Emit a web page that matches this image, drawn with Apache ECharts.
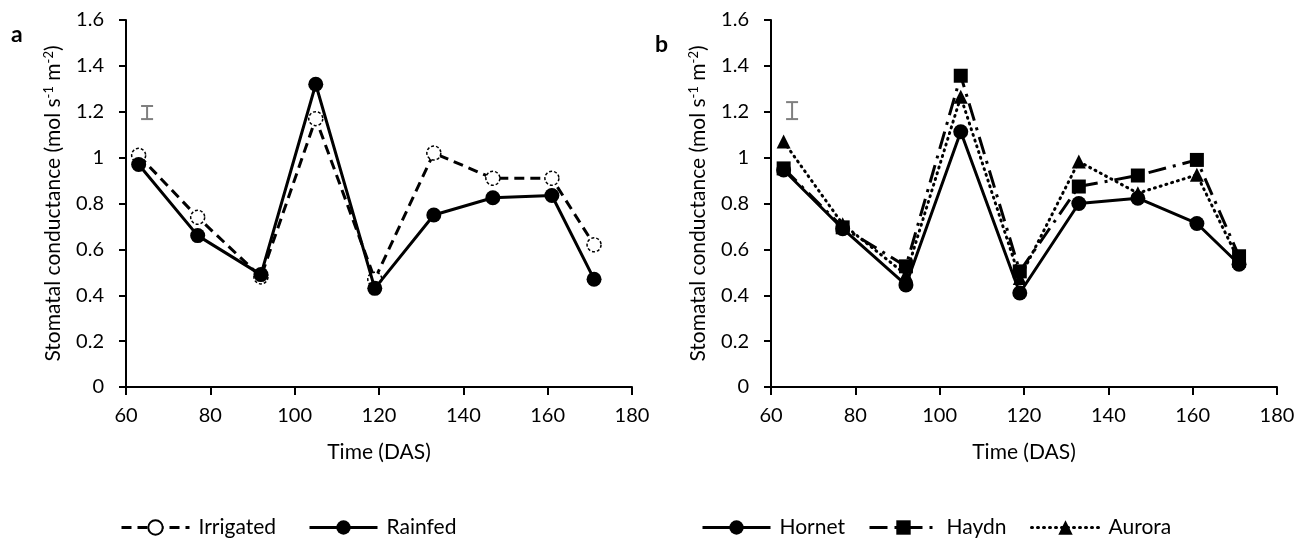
<!DOCTYPE html>
<html><head><meta charset="utf-8">
<script src="https://cdn.jsdelivr.net/npm/echarts@6/dist/echarts.min.js"></script>
<style>html,body{margin:0;padding:0;background:#fff}#c{width:1306px;height:541px}</style>
</head><body><div id="c"></div>
<script>
var days = [63, 77, 92, 105, 119, 133, 147, 161, 171];
var irrigated = [1.01, 0.74, 0.48, 1.17, 0.47, 1.02, 0.91, 0.91, 0.62];
var rainfed = [0.97, 0.66, 0.49, 1.32, 0.43, 0.75, 0.825, 0.835, 0.47];
var hornet = [0.946, 0.69, 0.445, 1.113, 0.41, 0.80, 0.823, 0.713, 0.535];
var haydn = [0.953, 0.696, 0.526, 1.357, 0.504, 0.874, 0.922, 0.99, 0.57];
var aurora = [1.07, 0.71, 0.49, 1.265, 0.475, 0.983, 0.845, 0.925, 0.55];
var errA = [65, 1.168, 1.225];
var errB = [65, 1.168, 1.242];
var xTicks = {min: 60, max: 180, step: 20};
var yTicks = {min: 0, max: 1.6, step: 0.2};

var FONT = "Lato, 'Open Sans', sans-serif";
function pairs(v){ return days.map(function(d,i){return [d, v[i]];}); }

function xAxis(idx){
  return {gridIndex: idx, type:'value', min:xTicks.min, max:xTicks.max, interval:xTicks.step,
    name:'Time (DAS)', nameLocation:'middle', nameGap:55,
    nameTextStyle:{fontFamily:FONT, fontSize:21, color:'#000'},
    axisLine:{lineStyle:{color:'#000', width:2}},
    axisTick:{show:true, length:8, lineStyle:{color:'#000', width:2}},
    axisLabel:{fontFamily:FONT, fontSize:20, color:'#000', margin:19},
    splitLine:{show:false}};
}
function yAxis(idx){
  return {gridIndex: idx, type:'value', min:yTicks.min, max:yTicks.max, interval:yTicks.step,
    name:'Stomatal conductance (mol s{sup|-1} m{sup|-2})', nameLocation:'middle', nameGap:62, nameRotate:90,
    nameTextStyle:{fontFamily:FONT, fontSize:21, color:'#000',
      rich:{sup:{fontFamily:FONT, fontSize:13, color:'#000', verticalAlign:'top', padding:[0,0,9,0]}}},
    axisLine:{show:true, lineStyle:{color:'#000', width:2}},
    axisTick:{show:true, length:7, lineStyle:{color:'#000', width:2}},
    axisLabel:{fontFamily:FONT, fontSize:20, color:'#000', margin:22,
      formatter:function(v){return String(Math.round(v*10)/10);}},
    splitLine:{show:false}};
}
function errSeries(idx, e){
  return {type:'custom', xAxisIndex:idx, yAxisIndex:idx, silent:true, z:1,
    data:[e],
    renderItem:function(params, api){
      var x = api.value(0), lo = api.value(1), hi = api.value(2);
      var p1 = api.coord([x, lo]), p2 = api.coord([x, hi]);
      var s = {stroke:'#7f7f7f', lineWidth:2};
      return {type:'group', children:[
        {type:'line', shape:{x1:p1[0], y1:p1[1], x2:p2[0], y2:p2[1]}, style:s},
        {type:'line', shape:{x1:p1[0]-6, y1:p1[1], x2:p1[0]+6, y2:p1[1]}, style:s},
        {type:'line', shape:{x1:p2[0]-6, y1:p2[1], x2:p2[0]+6, y2:p2[1]}, style:s}
      ]};
    }};
}
function leg(name, left){
  return {left:left, top:517, itemWidth:68, itemHeight:18, padding:0,
    lineStyle:{width:3},
    textStyle:{fontFamily:FONT, fontSize:21, color:'#000', padding:[0,0,0,4]},
    data:[name]};
}

var option = {
  animation:false,
  backgroundColor:'#fff',
  textStyle:{fontFamily:FONT},
  title:[
    {text:'a', left:11, top:23, padding:0, textStyle:{fontFamily:FONT, fontSize:23, fontWeight:'bold', color:'#000'}},
    {text:'b', left:655, top:33, padding:0, textStyle:{fontFamily:FONT, fontSize:23, fontWeight:'bold', color:'#000'}}
  ],
  grid:[
    {left:126, right:674, top:20, bottom:154},
    {left:771, right:29, top:20, bottom:154}
  ],
  xAxis:[xAxis(0), xAxis(1)],
  yAxis:[yAxis(0), yAxis(1)],
  legend:[leg('Irrigated',120), leg('Rainfed',308), leg('Hornet',701), leg('Haydn',868), leg('Aurora',1030)],
  series:[
    errSeries(0, errA),
    errSeries(1, errB),
    {name:'Irrigated', type:'line', xAxisIndex:0, yAxisIndex:0, data:pairs(irrigated),
      symbol:'circle', symbolSize:14, z:3,
      lineStyle:{color:'#000', width:3, type:[10,6]},
      itemStyle:{color:'#fff', borderColor:'#000', borderWidth:1.5, borderType:[3,2]}},
    {name:'Rainfed', type:'line', xAxisIndex:0, yAxisIndex:0, data:pairs(rainfed),
      symbol:'circle', symbolSize:15, z:4,
      lineStyle:{color:'#000', width:3},
      itemStyle:{color:'#000', borderColor:'#000', borderWidth:0}},
    {name:'Hornet', type:'line', xAxisIndex:1, yAxisIndex:1, data:pairs(hornet),
      symbol:'circle', symbolSize:15, z:4,
      lineStyle:{color:'#000', width:3},
      itemStyle:{color:'#000'}},
    {name:'Haydn', type:'line', xAxisIndex:1, yAxisIndex:1, data:pairs(haydn),
      symbol:'rect', symbolSize:14, z:3,
      lineStyle:{color:'#000', width:3, type:[18,7,3,7]},
      itemStyle:{color:'#000'}},
    {name:'Aurora', type:'line', xAxisIndex:1, yAxisIndex:1, data:pairs(aurora),
      symbol:'triangle', symbolSize:14, z:3,
      lineStyle:{color:'#000', width:3, type:[1,5], cap:'round'},
      itemStyle:{color:'#000'}}
  ]
};
var chart = echarts.init(document.getElementById('c'));
chart.setOption(option);
</script></body></html>
